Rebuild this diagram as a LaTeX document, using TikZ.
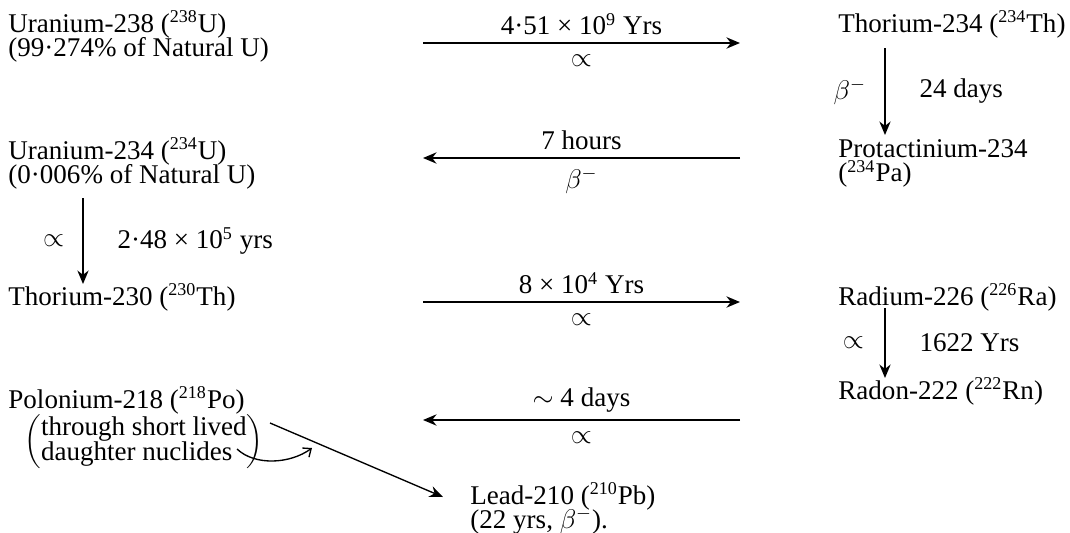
\documentclass[tikz,border=0pt]{standalone}
\usepackage{fontspec}
\setmainfont{Liberation Serif}
\usetikzlibrary{arrows.meta,positioning,calc}
\newcommand\nuclidefont{\fontsize{12}{10.9}\selectfont\lineskiplimit=-20pt\relax}

\begin{document}
\begin{tikzpicture}[x=0.444pt, y=-0.444pt,
    nuclide/.style={anchor=north west, inner sep=0pt, align=left, font=\nuclidefont},
    rate/.style={font=\fontsize{12}{12}\selectfont, inner sep=2pt},
    decay/.style={-{Stealth[length=6pt,width=5pt]}, line width=0.9pt},
    curly/.style={-{Straight Barb[length=3pt,width=5pt]}, line width=0.6pt}
]
\useasboundingbox (0,0) rectangle (1070,533);

% nuclides
\node[nuclide] (u238) at (8,10) {Uranium-238 (\textsuperscript{238}U)\\(99·274\% of Natural U)};
\node[nuclide] (th234) at (838,10) {Thorium-234 (\textsuperscript{234}Th)};
\node[nuclide] (pa234) at (838,139) {Protactinium-234\\(\textsuperscript{234}Pa)};
\node[nuclide] (u234) at (8,137) {Uranium-234 (\textsuperscript{234}U)\\(0·006\% of Natural U)};
\node[nuclide] (th230) at (8,283) {Thorium-230 (\textsuperscript{230}Th)};
\node[nuclide] (ra226) at (838,283) {Radium-226 (\textsuperscript{226}Ra)};
\node[nuclide] (rn222) at (838,377) {Radon-222 (\textsuperscript{222}Rn)};
\node[nuclide] (po218) at (8,386) {Polonium-218 (\textsuperscript{218}Po)};
\node[nuclide, font=\fontsize{12}{10.6}\selectfont] (short) at (24,414) {\renewcommand\arraystretch{0.86}$\left(\begin{tabular}{@{}l@{}}through short lived\\daughter nuclides\end{tabular}\right)$};
\node[nuclide] (pb210) at (470,482) {Lead-210 (\textsuperscript{210}Pb)\\(22 yrs, $\beta^-$).};

% free ends of the arrows
\coordinate (a1s) at (423,43);  \coordinate (a1e) at (740,43);
\coordinate (a2s) at (740,158); \coordinate (a2e) at (423,158);
\coordinate (a3s) at (423,302); \coordinate (a3e) at (740,302);
\coordinate (a4s) at (740,420); \coordinate (a4e) at (423,420);
\coordinate (v1s) at (885,48);  \coordinate (v1e) at (885,135);
\coordinate (v2s) at (83,198);  \coordinate (v2e) at (83,284);
\coordinate (v3s) at (885,308); \coordinate (v3e) at (885,378);
\coordinate (d1s) at (270,423); \coordinate (d1e) at (443,497);
\coordinate (c1s) at (237,449); \coordinate (c1e) at (312,448);

\draw[decay] (a1s) -- node[rate, above=1pt] {4·51 × 10\textsuperscript{9} Yrs} node[rate, below=3pt] {$\propto$} (a1e);
\draw[decay] (a2s) -- node[rate, above=1pt] {7 hours} node[rate, below=2pt] {$\beta^-$} (a2e);
\draw[decay] (a3s) -- node[rate, above=1pt] {8 × 10\textsuperscript{4} Yrs} node[rate, below=3pt] {$\propto$} (a3e);
\draw[decay] (a4s) -- node[rate, above=1pt] {$\sim$ 4 days} node[rate, below=3pt] {$\propto$} (a4e);

\draw[decay, line width=0.7pt] (v1s) -- node[rate, left=6pt] {$\beta^-$} node[rate, right=13pt] {24 days} (v1e);
\draw[decay, line width=0.7pt] (v2s) -- node[rate, left=6pt] {$\propto$} node[rate, right=13pt] {2·48 × 10\textsuperscript{5} yrs} (v2e);
\draw[decay, line width=0.7pt] (v3s) -- node[rate, left=7pt] {$\propto$} node[rate, right=13pt] {1622 Yrs} (v3e);

\draw[decay, line width=0.6pt] (d1s) -- (d1e);
\draw[curly] (c1s) .. controls (255,466) and (290,464) .. (c1e);
\end{tikzpicture}
\end{document}
